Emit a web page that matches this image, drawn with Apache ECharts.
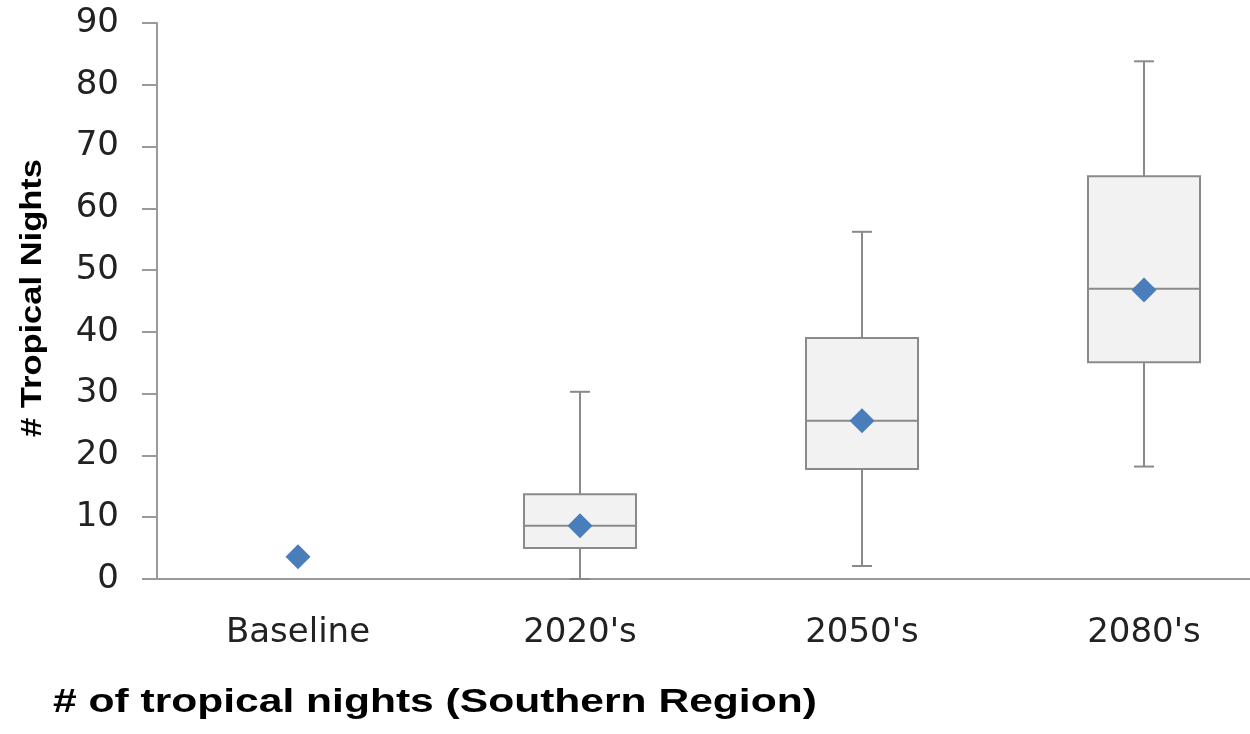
<!DOCTYPE html>
<html>
<head>
<meta charset="utf-8">
<script src="https://cdn.jsdelivr.net/npm/echarts@6/dist/echarts.min.js"></script>
<style>
html,body{margin:0;padding:0;background:#fff;overflow:hidden;width:1250px;height:734px;}
#chart{width:1285px;height:734px;}
</style>
</head>
<body>
<div id="chart"></div>
<script>
// ---- data ----
const categories = ['Baseline', "2020's", "2050's", "2080's"];
const whiskerLow  = [null, 0.0, 2.1, 18.2];
const quartile1   = [null, 5.0, 17.8, 35.1];
const medians     = [null, 8.6, 25.6, 47.0];
const quartile3   = [null, 13.7, 39.0, 65.2];
const whiskerHigh = [null, 30.3, 56.2, 83.8];
const means       = [3.6, 8.6, 25.6, 46.8];
const yMin = 0, yMax = 90, yInterval = 10;
const yAxisTitle = '# Tropical Nights';
const chartTitle = '# of tropical nights (Southern Region)';

const boxData = [];
categories.forEach((c, i) => {
  if (quartile1[i] !== null) {
    boxData.push([i, whiskerLow[i], quartile1[i], medians[i], quartile3[i], whiskerHigh[i]]);
  }
});

const LINE = '#8a8a8a';
const chart = echarts.init(document.getElementById('chart'), null, {renderer: 'canvas'});

function renderBox(params, api) {
  const x = api.value(0);
  const pLow = api.coord([x, api.value(1)]);
  const pQ1 = api.coord([x, api.value(2)]);
  const pMed = api.coord([x, api.value(3)]);
  const pQ3 = api.coord([x, api.value(4)]);
  const pHigh = api.coord([x, api.value(5)]);
  const cx = pLow[0];
  const bw = 112, cw = 20;
  const st = {stroke: LINE, lineWidth: 2, fill: null};
  return {
    type: 'group',
    children: [
      {type: 'line', shape: {x1: cx, y1: pQ3[1], x2: cx, y2: pHigh[1]}, style: st},
      {type: 'line', shape: {x1: cx, y1: pQ1[1], x2: cx, y2: pLow[1]}, style: st},
      {type: 'line', shape: {x1: cx - cw / 2, y1: pHigh[1], x2: cx + cw / 2, y2: pHigh[1]}, style: st},
      {type: 'line', shape: {x1: cx - cw / 2, y1: pLow[1], x2: cx + cw / 2, y2: pLow[1]}, style: st},
      {type: 'rect', shape: {x: cx - bw / 2, y: pQ3[1], width: bw, height: pQ1[1] - pQ3[1]},
        style: {fill: '#f2f2f2', stroke: LINE, lineWidth: 2}},
      {type: 'line', shape: {x1: cx - bw / 2, y1: pMed[1], x2: cx + bw / 2, y2: pMed[1]}, style: st}
    ]
  };
}

chart.setOption({
  animation: false,
  backgroundColor: '#ffffff',
  grid: {left: 157, right: 0, top: 23, bottom: 155, containLabel: false, outerBoundsMode: 'none'},
  xAxis: {
    type: 'category',
    data: categories,
    boundaryGap: true,
    axisLine: {show: true, lineStyle: {color: '#9a9a9a', width: 2}},
    axisTick: {show: false},
    axisLabel: {
      color: '#222', fontFamily: 'DejaVu Sans', fontSize: 34, margin: 37,
      interval: 0
    },
    splitLine: {show: false}
  },
  yAxis: {
    type: 'value',
    min: yMin, max: yMax, interval: yInterval,
    axisLine: {show: true, lineStyle: {color: '#9a9a9a', width: 2}},
    axisTick: {show: true, inside: false, length: 15, lineStyle: {color: '#9a9a9a', width: 2}},
    axisLabel: {color: '#222', fontFamily: 'DejaVu Sans', fontSize: 34, margin: 38},
    splitLine: {show: false}
  },
  graphic: [
    {
      type: 'text', x: 33, y: 298, rotation: Math.PI / 2, scaleX: 1.15,
      style: {text: yAxisTitle, fontFamily: 'Liberation Sans', fontWeight: 'bold', fontSize: 30,
        fill: '#000', textAlign: 'center', textVerticalAlign: 'middle'}
    },
    {
      type: 'text', x: 53, y: 703, scaleX: 1.29,
      style: {text: chartTitle, fontFamily: 'Liberation Sans', fontWeight: 'bold', fontSize: 33,
        fill: '#000', textAlign: 'left', textVerticalAlign: 'middle'}
    }
  ],
  series: [
    {
      type: 'custom',
      renderItem: renderBox,
      data: boxData,
      encode: {x: 0, y: [1, 2, 3, 4, 5]},
      z: 2
    },
    {
      type: 'scatter',
      data: means,
      symbol: 'diamond',
      symbolSize: [25, 25],
      itemStyle: {color: '#4a7ebb', opacity: 1},
      z: 5
    }
  ]
});
</script>
</body>
</html>
